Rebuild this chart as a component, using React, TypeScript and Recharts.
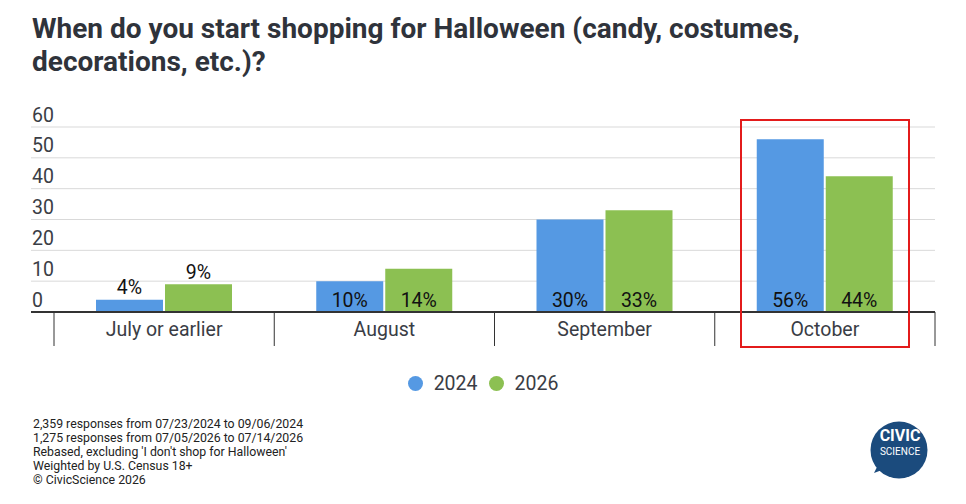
import React from 'react';
import { Bar, BarChart, CartesianGrid, LabelList, XAxis, YAxis } from 'recharts';

const categories = ['July or earlier', 'August', 'September', 'October'];
const values2024 = [4, 10, 30, 56];
const values2026 = [9, 14, 33, 44];
const yTicks = [0, 10, 20, 30, 40, 50, 60];

const footnotes = [
  '2,359 responses from 07/23/2024 to 09/06/2024',
  '1,275 responses from 07/05/2026 to 07/14/2026',
  "Rebased, excluding 'I don't shop for Halloween'",
  'Weighted by U.S. Census 18+',
  '© CivicScience 2026',
];

const BLUE = '#5599e3';
const GREEN = '#8cc052';
const TEXT = '#3a3d45';
const FONT = 'Roboto, "Noto Sans", sans-serif';

const data = categories.map((name, i) => ({
  name,
  y2024: values2024[i],
  y2026: values2026[i],
}));

const LEFT = 31;
const RIGHT = 935;
const BAND_START = 54;
const BAND = (RIGHT - BAND_START) / categories.length;

function YTick(props: any) {
  const { y, payload } = props;
  return (
    <text x={LEFT + 1} y={y - 12} dominantBaseline="central" textAnchor="start" fontSize={19.5} fill={TEXT} fontFamily={FONT}>
      {payload.value}
    </text>
  );
}

function XTick(props: any) {
  const { x, y, payload, index } = props;
  const top = y - 8;
  return (
    <g>
      <line x1={x - BAND / 2} x2={x - BAND / 2} y1={top} y2={top + 34} stroke="#333" strokeWidth={1} />
      {index === categories.length - 1 && (
        <line x1={x + BAND / 2} x2={x + BAND / 2} y1={top} y2={top + 34} stroke="#333" strokeWidth={1} />
      )}
      <text x={x} y={top + 17} dominantBaseline="central" textAnchor="middle" fontSize={19.5} fill={TEXT} fontFamily={FONT}>
        {payload.value}
      </text>
    </g>
  );
}

function ValueLabel(props: any) {
  const { x, y, width, height, value } = props;
  const outside = value < 10;
  const ty = outside ? y - 12 : y + height - 12;
  return (
    <text x={x + width / 2} y={ty} dominantBaseline="central" textAnchor="middle" fontSize={19.5} fill="#111" fontFamily={FONT}>
      {value}%
    </text>
  );
}

export default function App() {
  return (
    <div style={{ position: 'absolute', top: 0, left: 0, width: 966, height: 504, background: '#fff', fontFamily: FONT, overflow: 'hidden' }}>
      <div style={{ position: 'absolute', left: 32, top: 12, fontSize: 28, fontWeight: 700, lineHeight: '33px', color: '#2f333b' }}>
        When do you start shopping for Halloween (candy, costumes,
        <br />
        decorations, etc.)?
      </div>

      <BarChart
        width={966}
        height={360}
        data={data}
        margin={{ top: 127, right: 966 - RIGHT, bottom: 14, left: 0 }}
        barCategoryGap={42}
        barGap={2}
      >
        <CartesianGrid horizontal vertical={false} stroke="#d9d9d9" />
        <YAxis
          width={LEFT}
          domain={[0, 60]}
          ticks={yTicks}
          axisLine={false}
          tickLine={false}
          tick={<YTick />}
        />
        <XAxis
          dataKey="name"
          height={34}
          padding={{ left: BAND_START - LEFT, right: 0 }}
          axisLine={{ stroke: '#333', strokeWidth: 2 }}
          tickLine={false}
          tickMargin={2}
          tick={<XTick />}
          interval={0}
        />
        <Bar dataKey="y2024" fill={BLUE} isAnimationActive={false}>
          <LabelList dataKey="y2024" content={<ValueLabel />} />
        </Bar>
        <Bar dataKey="y2026" fill={GREEN} isAnimationActive={false}>
          <LabelList dataKey="y2026" content={<ValueLabel />} />
        </Bar>
      </BarChart>

      <div style={{ position: 'absolute', left: 740, top: 119, width: 166, height: 225, border: '2px solid #e31b1b' }} />

      <div style={{ position: 'absolute', top: 372, left: 0, width: 966, display: 'flex', justifyContent: 'center', alignItems: 'center', fontSize: 19.5, color: TEXT }}>
        <span style={{ width: 15, height: 15, borderRadius: '50%', background: BLUE, display: 'inline-block', marginRight: 11 }} />
        <span style={{ marginRight: 11 }}>2024</span>
        <span style={{ width: 15, height: 15, borderRadius: '50%', background: GREEN, display: 'inline-block', marginRight: 11 }} />
        <span>2026</span>
      </div>

      <div style={{ position: 'absolute', left: 33, top: 417, fontSize: 12.3, lineHeight: '14px', color: '#222' }}>
        {footnotes.map((line) => (
          <div key={line}>{line}</div>
        ))}
      </div>

      <svg style={{ position: 'absolute', left: 860, top: 415 }} width={80} height={70}>
        <path d="M 14 58 L 22 42 L 30 52 Z" fill="#1b4b7d" />
        <circle cx={39} cy={35} r={28.5} fill="#1b4b7d" />
        <text x={40} y={20} dominantBaseline="central" textAnchor="middle" fontSize={16} fontWeight={700} fill="#fff" fontFamily={FONT}>
          CIVIC
        </text>
        <text x={40} y={36} dominantBaseline="central" textAnchor="middle" fontSize={10} fill="#fff" fontFamily={FONT}>
          SCIENCE
        </text>
      </svg>
    </div>
  );
}
